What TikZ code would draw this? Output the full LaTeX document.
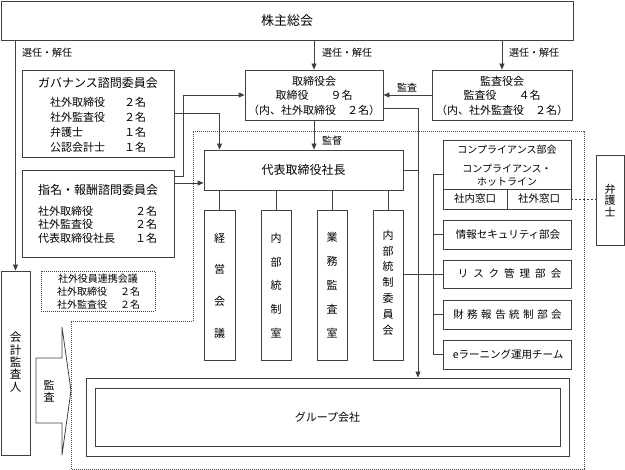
\documentclass[tikz,border=0pt]{standalone}
\usepackage{fontspec}
\setmainfont{Noto Sans CJK JP}
\usetikzlibrary{arrows.meta}
\tikzset{
  ln/.style={draw=black!75, line width=0.8pt},
  arr/.style={ln, -{Triangle[length=6pt,width=5pt]}},
  box/.style={ln, rectangle, inner sep=0pt},
  dbox/.style={draw=black!75, line width=0.8pt, dash pattern=on 1pt off 1pt, rectangle, inner sep=0pt},
  txt/.style={inner sep=0pt, font=\fontsize{11}{13}\selectfont},
  stxt/.style={inner sep=0pt, font=\fontsize{10}{12}\selectfont},
  vt/.style={inner sep=0pt, align=center},
}
\begin{document}
\begin{tikzpicture}[x=1pt,y=-1pt]
\useasboundingbox (0,0) rectangle (625,470);
% dotted region
\draw[draw=black!70, line width=0.8pt, dash pattern=on 1pt off 1pt]
  (193,131) -- (584,131) -- (584,469) -- (71,469) -- (71,321) -- (193,321) -- cycle;
% boxes
\node[box, minimum width=572pt, minimum height=39pt] (top) at (287,20.5) {};
\node[txt, font=\fontsize{13}{15}\selectfont] (toptxt) at (287,21) {株主総会};
\node[box, minimum width=152pt, minimum height=87pt] (gov) at (98,113.5) {};
\node[box, minimum width=152pt, minimum height=87pt] (nom) at (98,213.5) {};
\node[box, minimum width=138pt, minimum height=50pt] (bod) at (314,95) {};
\node[box, minimum width=140pt, minimum height=50pt] (kan) at (502,95) {};
\node[box, minimum width=199pt, minimum height=40pt] (ceo) at (303.5,170) {};
\node[box, minimum width=31pt, minimum height=150pt] (v1) at (219.5,285) {};
\node[box, minimum width=30pt, minimum height=150pt] (v2) at (276,285) {};
\node[box, minimum width=30pt, minimum height=150pt] (v3) at (332,285) {};
\node[box, minimum width=30pt, minimum height=150pt] (v4) at (388,285) {};
\node[box, minimum width=128pt, minimum height=69pt] (comp) at (507,174.5) {};
\node[box, minimum width=128pt, minimum height=29pt] (info) at (507,234.5) {};
\node[box, minimum width=128pt, minimum height=28pt] (risk) at (507,274) {};
\node[box, minimum width=128pt, minimum height=29pt] (fin) at (507,314.5) {};
\node[box, minimum width=128pt, minimum height=29pt] (elearn) at (507,354.5) {};
\node[box, minimum width=28pt, minimum height=90pt] (lawyer) at (610,200) {};
\node[box, minimum width=29pt, minimum height=184pt] (auditor) at (15.5,363) {};
\node[dbox, minimum width=114pt, minimum height=40pt] (outside) at (98,291) {};
\node[box, minimum width=483pt, minimum height=78pt] (grpo) at (327.5,417) {};
\node[box, minimum width=465pt, minimum height=58pt] (grpi) at (327.5,417) {};
% block arrow
\draw[ln] (36,358) -- (62,358) -- (62,327) -- (71,390.5) -- (62,455) -- (62,423) -- (36,423) -- cycle;
\node[vt, font=\fontsize{11}{11.5}\selectfont] (kansa) at (49,391) {監\\査};
% compliance internals
\draw[ln] (comp.west |- 0,189) -- (comp.east |- 0,189);
\draw[ln] (507,189) -- (comp.south);
% texts
\node[stxt] (l1) at (22,53) [anchor=west] {選任・解任};
\node[stxt] (l2) at (322,53) [anchor=west] {選任・解任};
\node[stxt] (l3) at (509,53) [anchor=west] {選任・解任};
\node[stxt] (l4) at (397,88) [anchor=west] {監査};
\node[stxt] (l5) at (322,141) [anchor=west] {監督};
\node[txt, font=\fontsize{12}{13}\selectfont] (govt) at (98,83) {ガバナンス諮問委員会};
\node[txt, anchor=west] (g1) at (50,102) {社外取締役};
\node[txt, anchor=west] (g2) at (50,117) {社外監査役};
\node[txt, anchor=west] (g3) at (50,132) {弁護士};
\node[txt, anchor=west] (g4) at (50,147) {公認会計士};
\node[txt, anchor=west] (g1n) at (124,102) {２名};
\node[txt, anchor=west] (g2n) at (124,117) {２名};
\node[txt, anchor=west] (g3n) at (124,132) {１名};
\node[txt, anchor=west] (g4n) at (124,147) {１名};
\node[txt, font=\fontsize{12}{13}\selectfont] (nomt) at (98,190) {指名・報酬諮問委員会};
\node[txt, anchor=west] (n1) at (38,211) {社外取締役};
\node[txt, anchor=west] (n2) at (38,224.5) {社外監査役};
\node[txt, anchor=west] (n3) at (38,238) {代表取締役社長};
\node[txt, anchor=west] (n1n) at (135,211) {２名};
\node[txt, anchor=west] (n2n) at (135,224.5) {２名};
\node[txt, anchor=west] (n3n) at (135,238) {１名};
\node[stxt, align=center, font=\fontsize{10}{13}\selectfont] (outt) at (98,279) {社外役員連携会議};
\node[stxt, anchor=west] (o1) at (57,292) {社外取締役};
\node[stxt, anchor=west] (o2) at (57,304.5) {社外監査役};
\node[stxt, anchor=west] (o1n) at (120,292) {２名};
\node[stxt, anchor=west] (o2n) at (120,304.5) {２名};
\node[txt, align=center, font=\fontsize{11}{14.5}\selectfont] (bodt) at (314,95.5) {取締役会\\取締役　　９名\\（内、社外取締役　２名）};
\node[txt, align=center, font=\fontsize{11}{14.5}\selectfont] (kant) at (502,95.5) {監査役会\\監査役　　４名\\（内、社外監査役　２名）};
\node[txt, font=\fontsize{12}{14}\selectfont] (ceot) at (303.5,170) {代表取締役社長};
\node[vt, font=\fontsize{11}{31.7}\selectfont] (v1t) at (219.5,285.5) {経\\営\\会\\議};
\node[vt, font=\fontsize{11}{23.8}\selectfont] (v2t) at (276,285.5) {内\\部\\統\\制\\室};
\node[vt, font=\fontsize{11}{24}\selectfont] (v3t) at (332,285) {業\\務\\監\\査\\室};
\node[vt, font=\fontsize{11}{15.8}\selectfont] (v4t) at (388,282.5) {内\\部\\統\\制\\委\\員\\会};
\node[stxt] (ct1) at (507,150) {コンプライアンス部会};
\node[stxt, align=center, font=\fontsize{10}{13}\selectfont] (ct2) at (507,175.5) {コンプライアンス・\\ホットライン};
\node[stxt, font=\fontsize{10.5}{12}\selectfont] (ct3) at (475,199) {社内窓口};
\node[stxt, font=\fontsize{10.5}{12}\selectfont] (ct4) at (539,199) {社外窓口};
\node[stxt, font=\fontsize{10.5}{12}\selectfont] (infot) at (508,234.5) {情報セキュリティ部会};
\node[stxt, font=\fontsize{10.5}{12}\selectfont] (riskt) at (509.5,274) {リ\kern5pt ス\kern5pt ク\kern5pt 管\kern5pt 理\kern5pt 部\kern5pt 会};
\node[stxt, font=\fontsize{10.5}{12}\selectfont] (fint) at (507.5,314.5) {財\kern3.5pt 務\kern3.5pt 報\kern3.5pt 告\kern3.5pt 統\kern3.5pt 制\kern3.5pt 部\kern3.5pt 会};
\node[stxt, font=\fontsize{10.5}{12}\selectfont] (elt) at (508,354.5) {eラーニング運用チーム};
\node[vt, font=\fontsize{11}{11.5}\selectfont] (lawt) at (610,200) {弁\\護\\士};
\node[vt, font=\fontsize{11.5}{12.3}\selectfont] (audt) at (15.5,362) {会\\計\\監\\査\\人};
\node[txt, font=\fontsize{11}{13}\selectfont] (grpt) at (327.5,417) {グループ会社};
% connectors
\draw[arr] (top.south -| bod.north) -- (bod.north);
\draw[arr] (top.south -| kan.north) -- (kan.north);
\draw[arr] (top.south -| auditor.north) -- (auditor.north);
\draw[arr] (kan.west) -- (bod.east);
\draw[arr] (bod.south) -- (bod.south |- ceo.north);
\coordinate (j1) at (418,108);
\draw[arr] (bod.east |- j1) -- (j1) -- (j1 |- grpo.north);
\draw[ln] (ceo.east) -- (ceo.east -| j1);
\draw[ln] (v4.east |- risk.west) -- (risk.west);
\coordinate (tr) at (433,174);
\draw[ln] (comp.west |- tr) -- (tr) -- (tr |- elearn.west) -- (elearn.west);
\draw[ln] (tr |- info.west) -- (info.west);
\draw[ln] (tr |- fin.west) -- (fin.west);
\draw[arr] (gov.east) -- (gov.east -| v1.north) -- (v1.north |- ceo.north);
\coordinate (j2) at (183,176);
\draw[arr] (nom.east |- j2) -- (j2) -- (j2 |- bod.west) -- (bod.west);
\coordinate (j3) at (183,183);
\draw[arr] (nom.east |- j3) -- (ceo.west |- j3);
\draw[ln] (v1.north |- ceo.south) -- (v1.north);
\draw[ln] (v2.north |- ceo.south) -- (v2.north);
\draw[ln] (v3.north |- ceo.south) -- (v3.north);
\draw[ln] (v4.north |- ceo.south) -- (v4.north);
\coordinate (j4) at (590,199);
\draw[ln, dash pattern=on 2pt off 2pt] (comp.east |- j4) -- (lawyer.west |- j4);
\end{tikzpicture}
\end{document}
